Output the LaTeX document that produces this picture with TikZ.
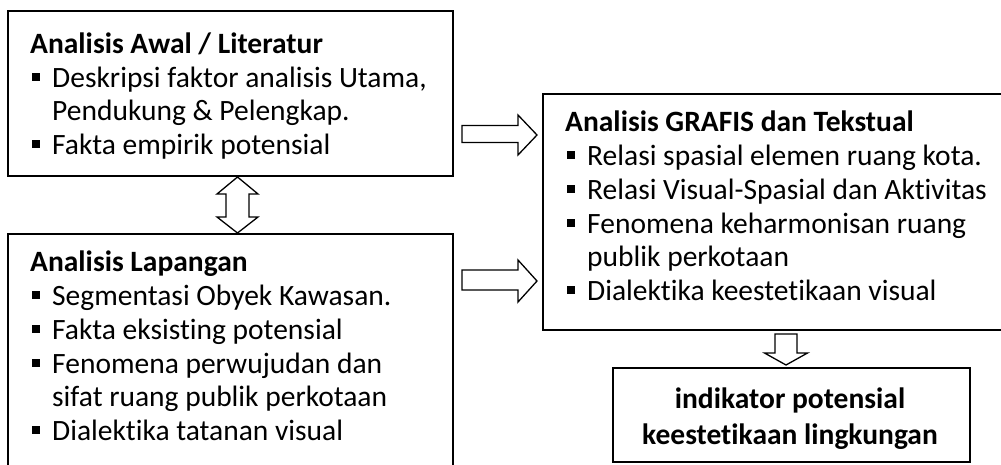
\documentclass[tikz,border=0pt]{standalone}
\usepackage{fontspec}
\setmainfont{Carlito}[Ligatures=NoCommon]
\newcommand{\blt}{\rule[0.19em]{8pt}{8pt}\hspace{12pt}}
\begin{document}
\begin{tikzpicture}[x=1pt,y=-1pt,
  box/.style={draw=black, line width=1.5pt, fill=white, inner sep=0pt, anchor=north west},
  txt/.style={anchor=base west, inner sep=0pt, font=\fontsize{29.5}{34}\selectfont},
  hd/.style={anchor=base west, inner sep=0pt, font=\fontsize{29.5}{34}\selectfont\bfseries},
  ctr/.style={anchor=base, inner sep=0pt, font=\fontsize{29.5}{34}\selectfont\bfseries},
  barrow/.style={draw=black, line width=1.3pt, fill=white, line join=miter}]
\useasboundingbox (0,0) rectangle (1001,464);
\clip (0,0) rectangle (1001,464);
% boxes
\node[box, minimum width=445pt, minimum height=165pt] (A) at (7,10) {};
\node[box, minimum width=445pt, minimum height=260pt] (B) at (7,233) {};
\node[box, minimum width=470pt, minimum height=236pt] (C) at (542,93) {};
\node[box, minimum width=357pt, minimum height=94pt] (D) at (612,367) {};
% block arrows
\draw[barrow] (462,125.5) -- (518,125.5) -- (518,115) -- (537,135) -- (518,155) -- (518,142.5) -- (462,142.5) -- cycle;
\draw[barrow] (462,270) -- (518,270) -- (518,260) -- (537,281) -- (518,302) -- (518,290) -- (462,290) -- cycle;
\draw[barrow] (237.5,177) -- (258,194) -- (249,194) -- (249,217) -- (258,217) -- (237.5,233) -- (217,217) -- (226,217) -- (226,194) -- (217,194) -- cycle;
\draw[barrow] (775,334) -- (797,334) -- (797,353) -- (807.5,353) -- (786,365) -- (764.5,353) -- (775,353) -- cycle;
% box A text
\node[hd] (a0) at (30,53) {Analisis Awal / Literatur};
\node[txt] (a1) at (32,87) {\blt Deskripsi faktor analisis Utama,};
\node[txt] (a2) at (52,120) {Pendukung \& Pelengkap.};
\node[txt] (a3) at (32,154) {\blt Fakta empirik potensial};
% box B text
\node[hd] (b0) at (30,271) {Analisis Lapangan};
\node[txt] (b1) at (32,305) {\blt Segmentasi Obyek Kawasan.};
\node[txt] (b2) at (32,339) {\blt Fakta eksisting potensial};
\node[txt] (b3) at (32,373) {\blt Fenomena perwujudan dan};
\node[txt] (b4) at (52,406) {sifat ruang publik perkotaan};
\node[txt] (b5) at (32,440) {\blt Dialektika tatanan visual};
% box C text
\node[hd] (c0) at (565,131) {Analisis GRAFIS dan Tekstual};
\node[txt] (c1) at (567,165) {\blt Relasi spasial elemen ruang kota.};
\node[txt] (c2) at (567,199) {\blt Relasi Visual-Spasial dan Aktivitas};
\node[txt] (c3) at (567,233) {\blt Fenomena keharmonisan ruang};
\node[txt] (c4) at (587,266) {publik perkotaan};
\node[txt] (c5) at (567,300) {\blt Dialektika keestetikaan visual};
% box D text
\node[ctr] (d0) at (790,408) {indikator potensial};
\node[ctr] (d1) at (790,444) {keestetikaan lingkungan};
\end{tikzpicture}
\end{document}
